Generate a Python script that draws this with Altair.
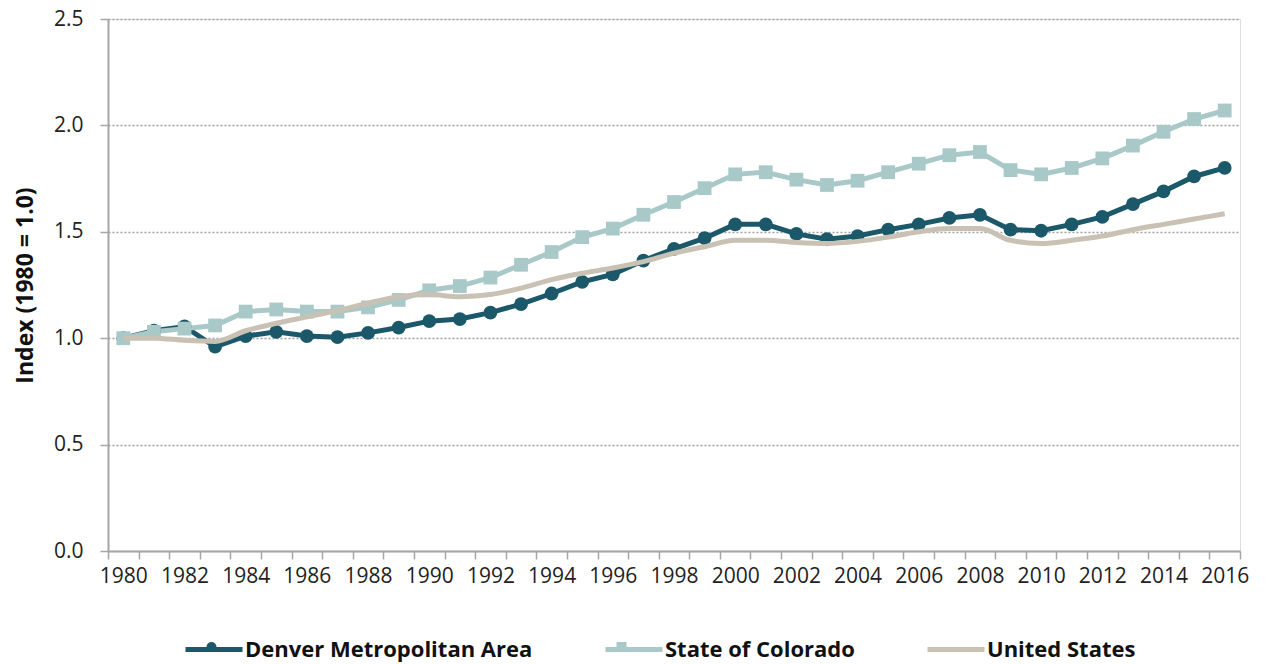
import altair as alt
import pandas as pd

years = list(range(1980, 2017))
series_names = ["Denver Metropolitan Area", "State of Colorado", "United States"]
denver = [1.00, 1.035, 1.055, 0.96, 1.01, 1.03, 1.01, 1.005, 1.025, 1.05,
          1.08, 1.09, 1.12, 1.16, 1.21, 1.265, 1.30, 1.365, 1.42, 1.47,
          1.535, 1.535, 1.49, 1.465, 1.48, 1.51, 1.535, 1.565, 1.58, 1.51,
          1.505, 1.535, 1.57, 1.63, 1.69, 1.76, 1.80]
colorado = [1.00, 1.03, 1.045, 1.06, 1.125, 1.135, 1.125, 1.125, 1.145, 1.18,
            1.225, 1.245, 1.285, 1.345, 1.405, 1.475, 1.515, 1.58, 1.64, 1.705,
            1.77, 1.78, 1.745, 1.72, 1.74, 1.78, 1.82, 1.86, 1.875, 1.79,
            1.77, 1.80, 1.845, 1.905, 1.97, 2.03, 2.07]
us = [1.00, 1.00, 0.99, 0.985, 1.035, 1.07, 1.10, 1.13, 1.165, 1.195,
      1.205, 1.195, 1.205, 1.235, 1.275, 1.305, 1.33, 1.36, 1.40, 1.43,
      1.46, 1.46, 1.45, 1.445, 1.455, 1.475, 1.50, 1.515, 1.515, 1.46,
      1.445, 1.46, 1.48, 1.51, 1.535, 1.56, 1.585]
colors = ["#1b5869", "#a9c9c9", "#c9c1b4"]
marker_shapes = ["circle", "square"]
y_ticks = [0.0, 0.5, 1.0, 1.5, 2.0, 2.5]

rows = []
for name, vals in zip(series_names, [denver, colorado, us]):
    for yr, v in zip(years, vals):
        rows.append({"year": yr, "series": name, "marker": name, "value": v})
df = pd.DataFrame(rows)

TOP = 19
W, H = 1132, 532
band = W / len(years)
x_tick_vals = [y - 0.5 for y in years] + [years[-1] + 0.5]

FONT = "Open Sans"
GRAY = "#a6a6a6"

x_enc = alt.X(
    "year:Q",
    scale=alt.Scale(domain=[years[0] - 0.5, years[-1] + 0.5], nice=False, zero=False),
    axis=alt.Axis(
        title=None,
        values=x_tick_vals,
        labelExpr="(datum.value + 0.5) % 2 == 0 ? '' + (datum.value + 0.5) : ''",
        labelOffset=band / 2,
        labelOverlap=False,
        labelBound=False,
        labelFlush=False,
        labelFont=FONT,
        labelFontSize=21,
        labelColor="#222222",
        labelPadding=6,
        tickSize=8,
        tickColor=GRAY,
        tickWidth=1.5,
        domainColor=GRAY,
        domainWidth=2,
        grid=False,
    ),
)
y_enc = alt.Y(
    "value:Q",
    scale=alt.Scale(domain=[0, 2.5], nice=False),
    axis=alt.Axis(
        title="Index (1980 = 1.0)",
        titleFont=FONT,
        titleFontSize=23,
        titleFontWeight="bold",
        titleColor="#111111",
        titlePadding=16,
        values=y_ticks,
        format=".1f",
        labelFont=FONT,
        labelFontSize=21,
        labelColor="#222222",
        labelPadding=17,
        tickSize=8,
        tickColor=GRAY,
        tickWidth=1.5,
        domainColor=GRAY,
        domainWidth=2,
        grid=True,
        gridColor="#a0a0a0",
        gridDash=[2, 2],
        gridWidth=1.5,
    ),
)

SYM_W = 57
LEG_X = 75
LEG_CY = 647 - TOP  # legend centre line, relative to plot top

line_legend = alt.Legend(
    title=None,
    orient="none",
    direction="horizontal",
    legendX=LEG_X,
    legendY=LEG_CY - SYM_W / 2,
    labelFont=FONT,
    labelFontSize=22,
    labelFontWeight="bold",
    labelColor="#111111",
    labelLimit=600,
    labelOffset=0,
    columnPadding=62,
    symbolType="stroke",
    symbolStrokeWidth=5,
    symbolSize=SYM_W * SYM_W,
)

marker_legend = alt.Legend(
    title=None,
    orient="none",
    direction="horizontal",
    legendX=LEG_X + SYM_W / 2 - 5,
    legendY=LEG_CY - 5,
    labelExpr="''",
    labelOffset=0,
    columnPadding=400,
    symbolSize=100,
    symbolStrokeWidth=0,
    zindex=2,
)

stroke_scale = alt.Scale(domain=series_names, range=colors)
fill_scale = alt.Scale(domain=series_names[:2], range=colors[:2])
shape_scale = alt.Scale(domain=series_names[:2], range=marker_shapes)

base = alt.Chart(df)
two = alt.FieldOneOfPredicate(field="series", oneOf=series_names[:2])

straight = base.transform_filter(two).mark_line(strokeWidth=5).encode(
    x=x_enc,
    y=y_enc,
    stroke=alt.Stroke("series:N", scale=stroke_scale, legend=line_legend),
    detail="series:N",
)

points = base.transform_filter(two).mark_point(
    filled=True, opacity=1, size=190, strokeWidth=0
).encode(
    x=x_enc,
    y=y_enc,
    fill=alt.Fill("marker:N", scale=fill_scale, legend=marker_legend),
    shape=alt.Shape("marker:N", scale=shape_scale, legend=marker_legend),
)

us_line = base.transform_filter(
    alt.FieldEqualPredicate(field="series", equal=series_names[2])
).mark_line(strokeWidth=5, interpolate="monotone").encode(
    x=x_enc,
    y=y_enc,
    stroke=alt.Stroke("series:N", scale=stroke_scale, legend=line_legend),
)

chart = alt.layer(straight, points, us_line).properties(
    width=W,
    height=H,
    autosize=alt.AutoSizeParams(type="none"),
    padding={"left": 100, "top": TOP - 8, "right": 20, "bottom": 113},
).configure_view(stroke=None).configure(background="white")

chart.save("out.html", embed_options={"renderer": "svg", "actions": False})
